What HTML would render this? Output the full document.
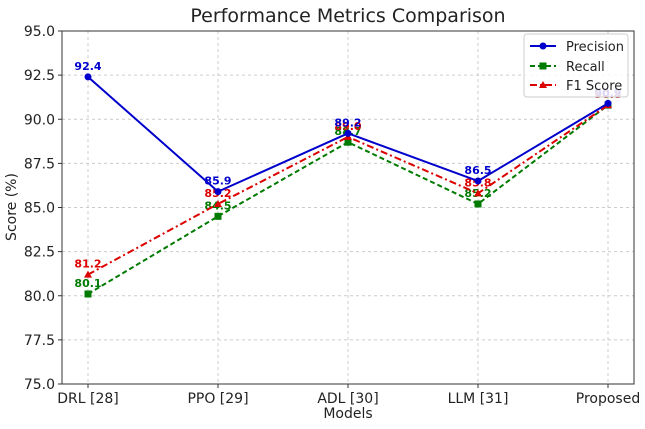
<!DOCTYPE html>
<html><head><meta charset="utf-8"><style>
body{margin:0;background:#fff;font-family:"Liberation Sans","DejaVu Sans",sans-serif}
svg text{font-family:"DejaVu Sans","Liberation Sans",sans-serif}
</style></head><body>
<svg id="chart" width="645" height="424" xmlns="http://www.w3.org/2000/svg">
<text x="348" y="22" font-size="19" text-anchor="middle" fill="#222">Performance Metrics Comparison</text>
<g id="grid"></g><g id="axes"></g><g id="series"></g>
<text x="348" y="418" font-size="14" text-anchor="middle" fill="#222">Models</text>
<text transform="translate(16,207) rotate(-90)" font-size="14" text-anchor="middle" fill="#222">Score (%)</text>
<g>
<rect x="524" y="34" width="104" height="63" fill="#fff" fill-opacity="0.85" stroke="#ccc" rx="3"/>
<line x1="530" y1="46" x2="556" y2="46" stroke="#0000cc" stroke-width="2"/><circle cx="543" cy="46" r="3.5" fill="#0000cc"/>
<text x="566" y="51" font-size="13" fill="#222">Precision</text>
<line x1="530" y1="66" x2="556" y2="66" stroke="#007a00" stroke-width="2" stroke-dasharray="5,3"/><rect x="539.5" y="62.5" width="7" height="7" fill="#007a00"/>
<text x="566" y="71" font-size="13" fill="#222">Recall</text>
<line x1="530" y1="85" x2="556" y2="85" stroke="#dd0000" stroke-width="2" stroke-dasharray="7,3,2,3"/><path d="M543 81 L547 88 L539 88 Z" fill="#dd0000"/>
<text x="566" y="90" font-size="13" fill="#222">F1 Score</text>
</g>
</svg>
<script>
const categories=["DRL [28]","PPO [29]","ADL [30]","LLM [31]","Proposed"];
const precision=[92.4,85.9,89.2,86.5,90.9];
const recall=[80.1,84.5,88.7,85.2,90.8];
const f1=[81.2,85.2,89.0,85.8,90.8];
const yTicks=[75.0,77.5,80.0,82.5,85.0,87.5,90.0,92.5,95.0];
const NS="http://www.w3.org/2000/svg";
const L=62,R=634,T=31,B=384,pad=26;
const x=i=>L+pad+i*(R-L-2*pad)/(categories.length-1);
const y=v=>B-(v-75)*(B-T)/20;
function mk(tag,attrs,parent,txt){const e=document.createElementNS(NS,tag);for(const k in attrs)e.setAttribute(k,attrs[k]);if(txt!==undefined)e.textContent=txt;parent.appendChild(e);return e;}
const grid=document.getElementById('grid'),axes=document.getElementById('axes'),ser=document.getElementById('series');
yTicks.forEach(t=>{
 const g=mk('line',{x1:L,x2:R,y1:y(t),y2:y(t),stroke:'#ccc','stroke-dasharray':'3,3'},grid);
 
 
 mk('line',{x1:L-4,x2:L,y1:y(t),y2:y(t),stroke:'#333'},axes);
 const tl=mk('text',{x:L-7,y:y(t)+5,'font-size':14,'text-anchor':'end',fill:'#222'},axes,t.toFixed(1));
 
 
});
categories.forEach((c,i)=>{
 mk('line',{x1:x(i),x2:x(i),y1:T,y2:B,stroke:'#ccc','stroke-dasharray':'3,3'},grid);
 mk('line',{x1:x(i),x2:x(i),y1:B,y2:B+4,stroke:'#333'},axes);
 const tl=mk('text',{x:x(i),y:B+19,'font-size':14,'text-anchor':'middle',fill:'#222'},axes,c);
 
 
});
mk('rect',{x:L,y:T,width:R-L,height:B-T,fill:'none',stroke:'#333'},axes);
function draw(vals,color,dash,marker,name,dy){
 const g=mk('g',{},ser);
 
 
 mk('polyline',{points:vals.map((v,i)=>x(i)+','+y(v)).join(' '),fill:'none',stroke:color,'stroke-width':2,'stroke-dasharray':dash},g);
 vals.forEach((v,i)=>{
  const px=x(i),py=y(v);let m;
  if(marker==='c')m=mk('circle',{cx:px,cy:py,r:3.5,fill:color},g);
  else if(marker==='s')m=mk('rect',{x:px-3.5,y:py-3.5,width:7,height:7,fill:color},g);
  else m=mk('path',{d:`M${px} ${py-4} L${px+4} ${py+3} L${px-4} ${py+3} Z`,fill:color},g);
  
  
  const t=mk('text',{x:px,y:py-7+dy,'font-size':11,'font-weight':'bold','text-anchor':'middle',fill:color},g,v.toFixed(1));
  
  
 });
}
draw(recall,'#007a00','5,3','s','recall',0);
draw(f1,'#dd0000','7,3,2,3','t','f1-score',0);
draw(precision,'#0000cc','','c','precision',0);
</script>
</body></html>
